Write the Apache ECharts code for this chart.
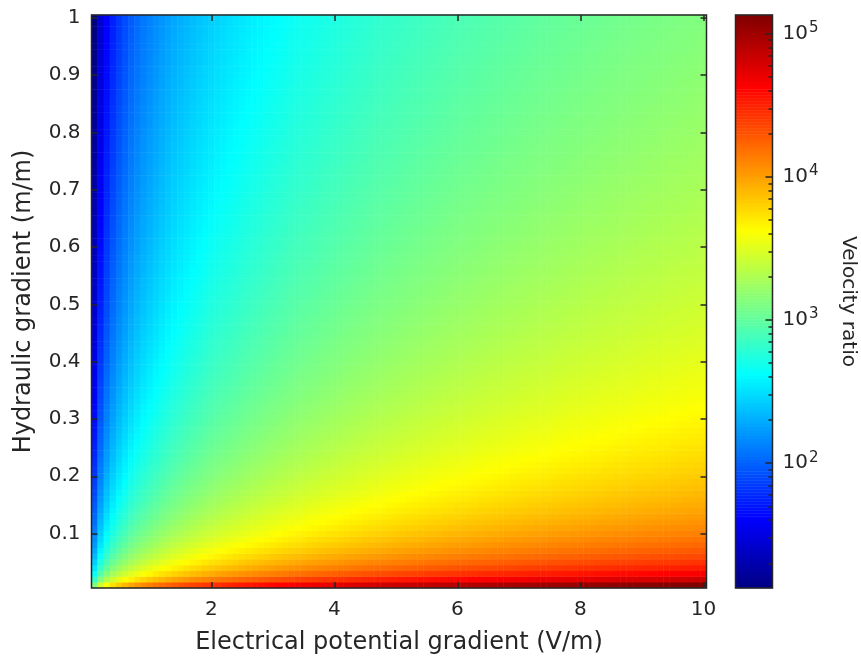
<!DOCTYPE html>
<html>
<head>
<meta charset="utf-8">
<script src="https://cdn.jsdelivr.net/npm/echarts@6/dist/echarts.min.js"></script>
<style>
html,body{margin:0;padding:0;background:#fff;}
#chart{width:861px;height:657px;}
</style>
</head>
<body>
<div id="chart"></div>
<script>
// Electrical potential gradient (V/m) – image column centres
const eGradient = [0.1,0.2,0.3,0.4,0.5,0.6,0.7,0.8,0.9,1.0,
  1.1,1.2,1.3,1.4,1.5,1.6,1.7,1.8,1.9,2.0,
  2.1,2.2,2.3,2.4,2.5,2.6,2.7,2.8,2.9,3.0,
  3.1,3.2,3.3,3.4,3.5,3.6,3.7,3.8,3.9,4.0,
  4.1,4.2,4.3,4.4,4.5,4.6,4.7,4.8,4.9,5.0,
  5.1,5.2,5.3,5.4,5.5,5.6,5.7,5.8,5.9,6.0,
  6.1,6.2,6.3,6.4,6.5,6.6,6.7,6.8,6.9,7.0,
  7.1,7.2,7.3,7.4,7.5,7.6,7.7,7.8,7.9,8.0,
  8.1,8.2,8.3,8.4,8.5,8.6,8.7,8.8,8.9,9.0,
  9.1,9.2,9.3,9.4,9.5,9.6,9.7,9.8,9.9,10.0];
// Hydraulic gradient (m/m) – image row centres
const hGradient = [0.01,0.02,0.03,0.04,0.05,0.06,0.07,0.08,0.09,0.10,
  0.11,0.12,0.13,0.14,0.15,0.16,0.17,0.18,0.19,0.20,
  0.21,0.22,0.23,0.24,0.25,0.26,0.27,0.28,0.29,0.30,
  0.31,0.32,0.33,0.34,0.35,0.36,0.37,0.38,0.39,0.40,
  0.41,0.42,0.43,0.44,0.45,0.46,0.47,0.48,0.49,0.50,
  0.51,0.52,0.53,0.54,0.55,0.56,0.57,0.58,0.59,0.60,
  0.61,0.62,0.63,0.64,0.65,0.66,0.67,0.68,0.69,0.70,
  0.71,0.72,0.73,0.74,0.75,0.76,0.77,0.78,0.79,0.80,
  0.81,0.82,0.83,0.84,0.85,0.86,0.87,0.88,0.89,0.90,
  0.91,0.92,0.93,0.94,0.95,0.96,0.97,0.98,0.99,1.00];
// Velocity ratio: iso-colour bands are rays through the origin (ratio ∝ E / i);
// the proportionality coefficient (min 13.5 at E=0.1,i=1; max 1.35e5 at E=10,i=0.01)
const ratioCoef = 134.6;
const colorMin = 13.46;
const colorMax = 134600;

const xTickValues = [2, 4, 6, 8, 10];
const yTickValues = [0.1, 0.2, 0.3, 0.4, 0.5, 0.6, 0.7, 0.8, 0.9, 1];
const cbMajorExponents = [2, 3, 4, 5];
const cbMinorMultipliers = [2, 3, 4, 5, 6, 7, 8, 9];

// ---- build ----
const logMin = Math.log10(colorMin), logMax = Math.log10(colorMax);
const heat = [];
eGradient.forEach((e, ix) => {
  hGradient.forEach((h, iy) => {
    heat.push([ix, iy, Math.log10(ratioCoef * e / h)]);
  });
});

function jet(m) {
  const n = Math.ceil(m / 4);
  const u = [];
  for (let k = 1; k <= n; k++) u.push(k / n);
  for (let k = 1; k <= n - 1; k++) u.push(1);
  for (let k = n; k >= 1; k--) u.push(k / n);
  const gOff = Math.ceil(n / 2) - (m % 4 === 1 ? 1 : 0);
  const c = [];
  for (let i = 0; i < m; i++) c.push([0, 0, 0]);
  for (let k = 0; k < u.length; k++) {
    const g = gOff + k + 1, r = g + n, b = g - n;
    if (g >= 1 && g <= m) c[g - 1][1] = u[k];
    if (r >= 1 && r <= m) c[r - 1][0] = u[k];
    if (b >= 1 && b <= m) c[b - 1][2] = u[k];
  }
  return c.map(v => 'rgb(' + v.map(x => Math.round(x * 255)).join(',') + ')');
}
const NC = 256;
const cmap = jet(NC);
const CB_BINS = 192;
const step = (logMax - logMin) / CB_BINS;
const cbBins = [], cbData = [];
for (let i = 0; i < CB_BINS; i++) { cbBins.push(String(i)); cbData.push([0, i, logMin + (i + 0.5) * step]); }
const cbMinor = [];
for (let n = 1; n <= 5; n++) cbMinorMultipliers.forEach(k => {
  const v = Math.log10(k * Math.pow(10, n));
  if (v > logMin && v < logMax) cbMinor.push(v);
});

const TXT = '#262626';
const FONT = 'DejaVu Sans';
const tickStyle = { color: TXT, width: 1.5 };

const option = {
  animation: false,
  textStyle: { fontFamily: FONT, color: TXT },
  grid: [
    { left: 91.5, top: 15, width: 615, height: 573, show: true, borderColor: TXT, borderWidth: 1.5, z: 5,
      backgroundColor: 'transparent', outerBoundsMode: 'none', containLabel: false },
    { left: 735.5, top: 15, width: 37, height: 573, show: true, borderColor: TXT, borderWidth: 1.5, z: 5,
      backgroundColor: 'transparent', outerBoundsMode: 'none', containLabel: false }
  ],
  xAxis: [
    { type: 'category', gridIndex: 0, data: eGradient.map(String), show: false },
    { type: 'value', gridIndex: 0, position: 'bottom', min: 0.05, max: 10.05, z: 6,
      axisLine: { show: false }, splitLine: { show: false },
      axisTick: { show: true, inside: true, length: 6, customValues: xTickValues, lineStyle: tickStyle },
      axisLabel: { customValues: xTickValues, fontSize: 20, color: TXT, margin: 12, fontFamily: FONT },
      name: 'Electrical potential gradient (V/m)', nameLocation: 'middle', nameGap: 43,
      nameTextStyle: { fontSize: 24, color: TXT, fontFamily: FONT } },
    { type: 'value', gridIndex: 0, position: 'top', min: 0.05, max: 10.05, z: 6,
      axisLine: { show: false }, splitLine: { show: false },
      axisTick: { show: true, inside: true, length: 6, customValues: xTickValues, lineStyle: tickStyle },
      axisLabel: { show: false } },
    { type: 'category', gridIndex: 1, data: ['cb'], show: false }
  ],
  yAxis: [
    { type: 'category', gridIndex: 0, data: hGradient.map(String), show: false },
    { type: 'value', gridIndex: 0, position: 'left', min: 0.005, max: 1.005, z: 6,
      axisLine: { show: false }, splitLine: { show: false },
      axisTick: { show: true, inside: true, length: 6, customValues: yTickValues, lineStyle: tickStyle },
      axisLabel: { customValues: yTickValues, fontSize: 20, color: TXT, margin: 11, fontFamily: FONT,
        formatter: v => String(Math.round(v * 10) / 10) },
      name: 'Hydraulic gradient (m/m)', nameLocation: 'middle', nameGap: 56,
      nameTextStyle: { fontSize: 24, color: TXT, fontFamily: FONT } },
    { type: 'value', gridIndex: 0, position: 'right', min: 0.005, max: 1.005, z: 6,
      axisLine: { show: false }, splitLine: { show: false },
      axisTick: { show: true, inside: true, length: 6, customValues: yTickValues, lineStyle: tickStyle },
      axisLabel: { show: false } },
    { type: 'category', gridIndex: 1, data: cbBins, show: false },
    { type: 'value', gridIndex: 1, position: 'right', min: logMin, max: logMax, z: 6,
      axisLine: { show: false }, splitLine: { show: false },
      axisTick: { show: true, inside: true, length: 7, customValues: cbMajorExponents, lineStyle: tickStyle },
      axisLabel: { customValues: cbMajorExponents, margin: 10, color: TXT, fontFamily: FONT, fontSize: 20,
        formatter: v => '{b|10}{s|' + Math.round(v) + '}',
        rich: { b: { fontSize: 20, color: TXT, fontFamily: FONT },
                s: { fontSize: 15, color: TXT, fontFamily: FONT, padding: [0, 0, 11, 1] } } },
      name: 'Velocity ratio', nameLocation: 'middle', nameGap: 66, nameRotate: -90,
      nameTextStyle: { fontSize: 20, color: TXT, fontFamily: FONT } },
    { type: 'value', gridIndex: 1, position: 'right', min: logMin, max: logMax, z: 6,
      axisLine: { show: false }, splitLine: { show: false },
      axisTick: { show: true, inside: true, length: 4, customValues: cbMinor, lineStyle: tickStyle },
      axisLabel: { show: false } }
  ],
  visualMap: {
    type: 'continuous', show: false, dimension: 2, seriesIndex: [0, 1],
    min: logMin, max: logMax, inRange: { color: cmap }
  },
  series: [
    { type: 'heatmap', xAxisIndex: 0, yAxisIndex: 0, data: heat, progressive: 0, emphasis: { disabled: true } },
    { type: 'heatmap', xAxisIndex: 3, yAxisIndex: 3, data: cbData, progressive: 0, emphasis: { disabled: true } }
  ]
};

const chart = echarts.init(document.getElementById('chart'), null, { renderer: 'canvas' });
chart.setOption(option);
</script>
</body>
</html>
